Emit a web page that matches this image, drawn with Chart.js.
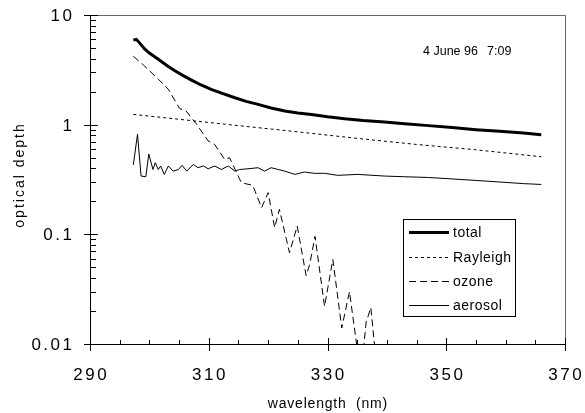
<!DOCTYPE html>
<html>
<head>
<meta charset="utf-8">
<style>
html, body { margin: 0; padding: 0; background: #fff; }
#chart { display: block; }
</style>
<script src="https://cdn.jsdelivr.net/npm/chart.js@4.4.0/dist/chart.umd.min.js"></script>
</head>
<body>
<canvas id="chart" width="585" height="413"></canvas>
<script>
const seriesNames = ['total', 'Rayleigh', 'ozone', 'aerosol'];

const totalWl = [297.3, 297.8, 298.3, 299.2, 300.0, 301.5, 303.0, 304.3, 305.7, 307.1, 308.7, 310.4, 312.4, 314.4, 316.3, 318.3, 320.5, 322.8, 325.0, 327.3, 330.0, 332.9, 336.0, 339.6, 343, 347, 351, 355, 359, 363, 366];
const totalTau = [5.9, 6.0, 5.6, 4.9, 4.5, 3.95, 3.45, 3.1, 2.8, 2.55, 2.3, 2.1, 1.92, 1.76, 1.63, 1.53, 1.42, 1.33, 1.28, 1.24, 1.18, 1.13, 1.09, 1.06, 1.02, 0.98, 0.94, 0.9, 0.87, 0.84, 0.81];

const rayWl = [297.3, 305, 315, 325, 335, 345, 355, 366];
const rayTau = [1.24, 1.12, 0.98, 0.86, 0.75, 0.66, 0.59, 0.51];

const ozoneWl = [297.3, 299.0, 301.5, 303.2, 305.1, 306.2, 308.0, 309.9, 311.0, 312.7, 313.5, 315.5, 317.4, 318.9, 320.0, 321.1, 321.9, 323.6, 324.9, 326.4, 327.0, 327.9, 329.5, 330.9, 332.4, 333.7, 334.9, 335.6, 336.5, 337.3, 337.9];
const ozoneTau = [4.2, 3.5, 2.6, 2.1, 1.4, 1.33, 1.0, 0.71, 0.66, 0.48, 0.5, 0.295, 0.28, 0.175, 0.24, 0.115, 0.169, 0.068, 0.119, 0.042, 0.053, 0.096, 0.022, 0.059, 0.014, 0.03, 0.01, 0.005, 0.0157, 0.0215, 0.01];

const aerWl = [297.3, 298.0, 298.6, 299.4, 299.9, 300.6, 301.0, 301.5, 301.9, 302.5, 303.2, 304.0, 304.9, 305.5, 306.3, 307.4, 308.2, 309.1, 309.9, 311.0, 312.1, 313.3, 314.4, 315.2, 316.6, 318.3, 319.4, 320.5, 321.7, 322.8, 324.5, 326.1, 327.8, 329.5, 331.7, 335.1, 339.6, 343, 347, 351, 355, 359, 363, 366];
const aerTau = [0.43, 0.82, 0.34, 0.335, 0.54, 0.39, 0.45, 0.39, 0.42, 0.352, 0.42, 0.377, 0.39, 0.426, 0.377, 0.434, 0.405, 0.42, 0.396, 0.42, 0.39, 0.42, 0.377, 0.39, 0.396, 0.405, 0.377, 0.405, 0.39, 0.377, 0.352, 0.37, 0.36, 0.36, 0.345, 0.352, 0.34, 0.335, 0.33, 0.32, 0.31, 0.30, 0.29, 0.285];

const xMajor = [290, 310, 330, 350, 370];
const xMinor = [295, 300, 305, 315, 320, 325, 335, 340, 345, 355, 360, 365];
const yMajor = [10, 1, 0.1, 0.01];
const yMajorLabels = ['10', '1', '0.1', '0.01'];
const dateText = ['4 June 96', '7:09'];

const pts = (xs, ys) => xs.map((v, i) => ({ x: v, y: ys[i] }));

function spacedText(ctx, s, x, y, font, spacing, align, baseline) {
    ctx.font = font;
    ctx.letterSpacing = spacing + 'px';
    ctx.textAlign = align;
    ctx.textBaseline = baseline;
    let dx = 0;
    if (align === 'center') dx = spacing / 2;
    if (align === 'right') dx = spacing;
    ctx.fillText(s, x + dx, y);
    ctx.letterSpacing = '0px';
}

const framePlugin = {
    id: 'frame',
    afterDraw(chart) {
        const { ctx, chartArea: a, scales: { x, y } } = chart;
        const fam = '"Liberation Sans", Arial, sans-serif';
        ctx.save();
        ctx.fillStyle = '#000';

        // top and right frame
        ctx.lineWidth = 1;
        ctx.strokeStyle = '#666';
        ctx.beginPath();
        ctx.moveTo(a.left, a.top + 0.5);
        ctx.lineTo(a.right + 0.5, a.top + 0.5);
        ctx.lineTo(a.right + 0.5, a.bottom);
        ctx.stroke();

        // axes
        ctx.strokeStyle = '#000';
        ctx.beginPath();
        ctx.moveTo(a.left + 0.5, a.top);
        ctx.lineTo(a.left + 0.5, a.bottom + 0.5);
        ctx.lineTo(a.right + 0.5, a.bottom + 0.5);
        ctx.stroke();

        ctx.beginPath();
        xMajor.forEach(v => {
            const px = Math.round(x.getPixelForValue(v)) + 0.5;
            ctx.moveTo(px, a.bottom - 6);
            ctx.lineTo(px, a.bottom + 7);
        });
        xMinor.forEach(v => {
            const px = Math.round(x.getPixelForValue(v)) + 0.5;
            ctx.moveTo(px, a.bottom - 4);
            ctx.lineTo(px, a.bottom);
        });
        yMajor.forEach(v => {
            const py = Math.round(y.getPixelForValue(v)) + 0.5;
            ctx.moveTo(a.left - 6, py);
            ctx.lineTo(a.left + 8, py);
        });
        [0.01, 0.1, 1].forEach(d => {
            for (let k = 2; k <= 9; k++) {
                const py = Math.round(y.getPixelForValue(d * k)) + 0.5;
                ctx.moveTo(a.left, py);
                ctx.lineTo(a.left + 6, py);
            }
        });
        ctx.stroke();

        // tick labels
        const tickFont = '17px ' + fam;
        xMajor.forEach(v => {
            spacedText(ctx, String(v), x.getPixelForValue(v), a.bottom + 36, tickFont, 2.5, 'center', 'alphabetic');
        });
        yMajor.forEach((v, i) => {
            spacedText(ctx, yMajorLabels[i], a.left - 18, y.getPixelForValue(v) + 6, tickFont, 2.5, 'right', 'alphabetic');
        });

        // axis titles
        spacedText(ctx, 'wavelength  (nm)', (a.left + a.right) / 2, 408, '14px ' + fam, 0.8, 'center', 'alphabetic');
        ctx.save();
        ctx.translate(24, 176);
        ctx.rotate(-Math.PI / 2);
        spacedText(ctx, 'optical depth', 0, 0, '14px ' + fam, 2, 'center', 'alphabetic');
        ctx.restore();

        // date annotation
        spacedText(ctx, dateText[0], 423, 55, '12.5px ' + fam, 0, 'left', 'alphabetic');
        spacedText(ctx, dateText[1], 487, 55, '12.5px ' + fam, 0, 'left', 'alphabetic');

        // legend box
        ctx.lineWidth = 1;
        ctx.strokeStyle = '#000';
        ctx.strokeRect(403.5, 219.5, 112, 97);
        const rows = [232, 257, 281, 305];
        chart.data.datasets.forEach((ds, i) => {
            ctx.save();
            ctx.lineWidth = ds.borderWidth;
            ctx.setLineDash(ds.borderDash || []);
            ctx.beginPath();
            ctx.moveTo(409, rows[i] + 0.5);
            ctx.lineTo(449, rows[i] + 0.5);
            ctx.stroke();
            ctx.restore();
            spacedText(ctx, seriesNames[i], 453, rows[i] + 5, '14px ' + fam, 0.5, 'left', 'alphabetic');
        });

        ctx.restore();
    }
};

const ctx = document.getElementById('chart').getContext('2d');
const lineStyle = { borderColor: '#000', pointRadius: 0, tension: 0, fill: false };

const chart = new Chart(ctx, {
    type: 'line',
    data: {
        datasets: [
            { ...lineStyle, label: seriesNames[0], data: pts(totalWl, totalTau), borderWidth: 3 },
            { ...lineStyle, label: seriesNames[1], data: pts(rayWl, rayTau), borderWidth: 1, borderDash: [3, 3] },
            { ...lineStyle, label: seriesNames[2], data: pts(ozoneWl, ozoneTau), borderWidth: 1, borderDash: [7, 4] },
            { ...lineStyle, label: seriesNames[3], data: pts(aerWl, aerTau), borderWidth: 1 }
        ]
    },
    options: {
        responsive: false,
        devicePixelRatio: 1,
        animation: false,
        layout: { padding: { left: 0, right: 20, top: 15, bottom: 0 } },
        plugins: { legend: { display: false }, tooltip: { enabled: false } },
        scales: {
            x: {
                type: 'linear',
                min: 290,
                max: 370,
                ticks: { display: false },
                grid: { display: false, drawTicks: false },
                border: { display: false },
                afterFit: s => { s.height = 69; }
            },
            y: {
                type: 'logarithmic',
                min: 0.01,
                max: 10,
                ticks: { display: false },
                grid: { display: false, drawTicks: false },
                border: { display: false },
                afterFit: s => { s.width = 90; }
            }
        }
    },
    plugins: [framePlugin]
});
</script>
</body>
</html>
